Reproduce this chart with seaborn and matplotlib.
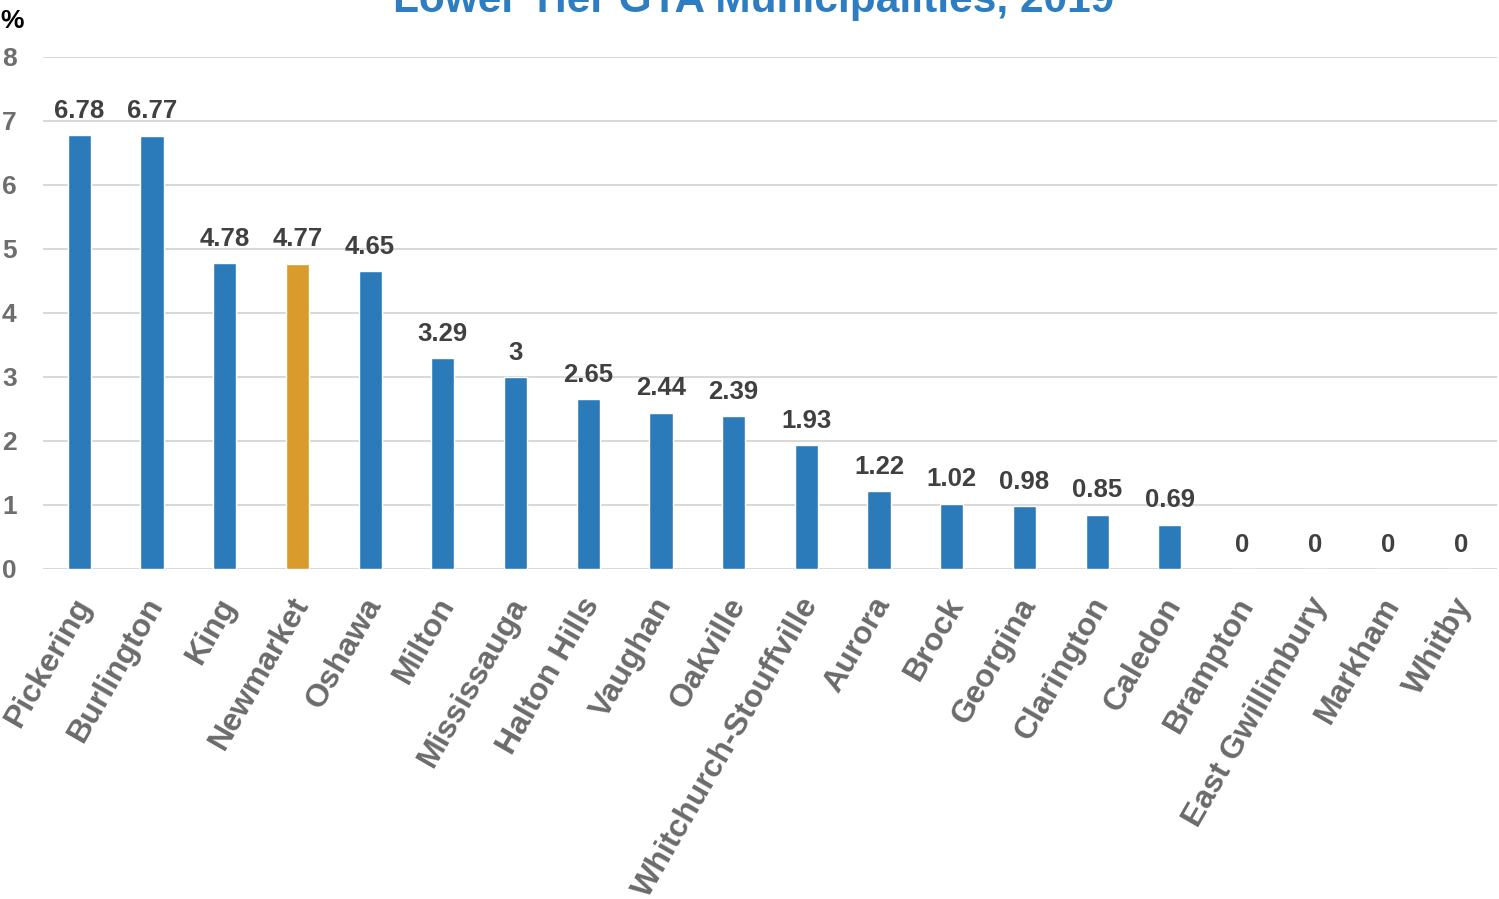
import matplotlib
matplotlib.use("Agg")
import matplotlib.pyplot as plt
import matplotlib.transforms as mtransforms
import seaborn as sns

municipalities = [
    "Pickering", "Burlington", "King", "Newmarket", "Oshawa", "Milton",
    "Mississauga", "Halton Hills", "Vaughan", "Oakville",
    "Whitchurch-Stouffville", "Aurora", "Brock", "Georgina", "Clarington",
    "Caledon", "Brampton", "East Gwillimbury", "Markham", "Whitby",
]
rates = [6.78, 6.77, 4.78, 4.77, 4.65, 3.29, 3, 2.65, 2.44, 2.39,
         1.93, 1.22, 1.02, 0.98, 0.85, 0.69, 0, 0, 0, 0]
highlight = "Newmarket"
y_ticks = [0, 1, 2, 3, 4, 5, 6, 7, 8]
title_text = "Lower Tier GTA Municipalities, 2019"
unit_label = "%"

BLUE = "#2B7BBA"
GOLD = "#D89B2C"

sns.set_theme(style="white")
plt.rcParams["font.family"] = ["Liberation Sans", "DejaVu Sans"]
plt.rcParams["font.weight"] = "bold"

fig = plt.figure(figsize=(14.99, 8.99), dpi=100)
ax = fig.add_axes([43 / 1499, (899 - 569) / 899, 1454 / 1499, 512 / 899])

colors = [GOLD if m == highlight else BLUE for m in municipalities]
sns.barplot(x=municipalities, y=rates, hue=municipalities, palette=colors,
            width=0.32, legend=False, ax=ax, saturation=1)

ax.set_xlim(-0.5, len(municipalities) - 0.5)
ax.set_ylim(0, 8)
ax.set_yticks(y_ticks)
ax.set_yticklabels([str(t) for t in y_ticks], fontsize=19,
                   fontweight="bold", color="#6E6E6E")
ax.yaxis.grid(True, color="#D9D9D9", linewidth=1.5)
ax.set_axisbelow(True)
for s in ax.spines.values():
    s.set_visible(False)
ax.tick_params(axis="y", length=0, pad=19)
ax.tick_params(axis="x", length=0, pad=22)
ax.set_xlabel("")
ax.set_ylabel("")

ax.set_xticks(range(len(municipalities)))
ax.set_xticklabels(municipalities, rotation=60, ha="right", va="center",
                   rotation_mode="anchor", fontsize=23, fontweight="bold",
                   color="#6B6B6B")
shift = mtransforms.ScaledTranslation(5 / 100, 0, fig.dpi_scale_trans)
for lbl in ax.get_xticklabels():
    lbl.set_transform(lbl.get_transform() + shift)

for i, v in enumerate(rates):
    ax.annotate(f"{v:g}", xy=(i, v), xytext=(0, 12.5),
                textcoords="offset points", ha="center", va="baseline",
                fontsize=18.5, fontweight="bold", color="#404040")

fig.text(754 / 1499, (899 - 12) / 899, title_text, ha="center",
         va="baseline", fontsize=30.5, fontweight="bold", color="#2E7DC0")
fig.text(0 / 1499, (899 - 28) / 899, unit_label, ha="left",
         va="baseline", fontsize=19, fontweight="bold", color="#000000")

fig.savefig("out.png", dpi=100)
